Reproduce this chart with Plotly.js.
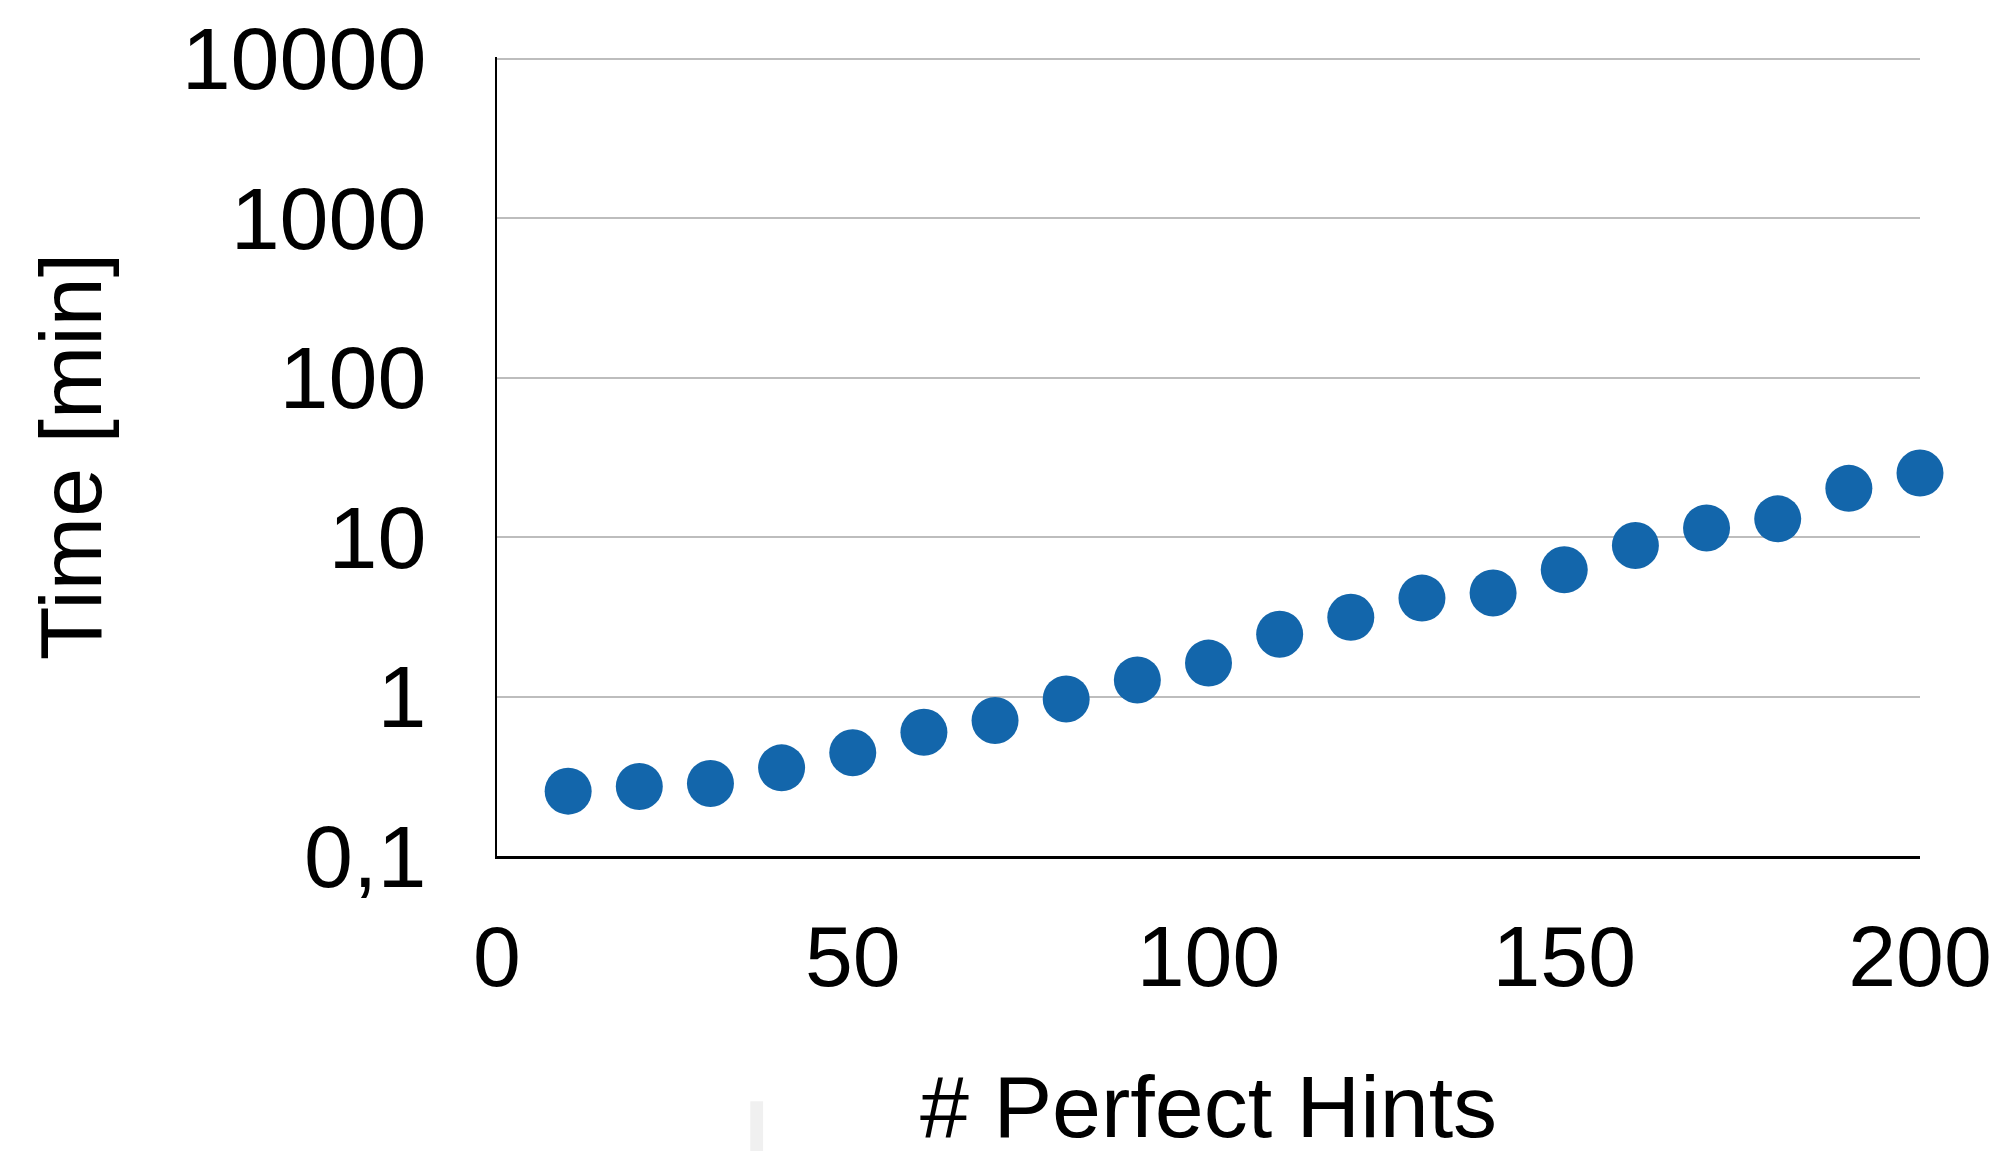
<!DOCTYPE html>
<html>
<head>
<meta charset="utf-8">
<script src="https://cdn.plot.ly/plotly-3.0.1.min.js"></script>
<style>html,body{margin:0;padding:0;background:#fff;}#chart{width:2003px;height:1151px;}</style>
</head>
<body>
<div id="chart"></div>
<script>
const hints = [10, 20, 30, 40, 50, 60, 70, 80, 90, 100, 110, 120, 130, 140, 150, 160, 170, 180, 190, 200];
const timeMin = [0.255, 0.273, 0.285, 0.357, 0.444, 0.597, 0.708, 0.965, 1.27, 1.62, 2.46, 3.14, 4.14, 4.46, 6.23, 8.85, 11.4, 13.0, 20.2, 25.2];
const yTickVals = [0.1, 1, 10, 100, 1000, 10000];
const yTickText = ['0,1', '1', '10', '100', '1000', '10000'];
const xTickVals = [0, 50, 100, 150, 200];
const xTitle = '# Perfect Hints';
const yTitle = 'Time [min]';

const font = 'Liberation Sans, Arial, Helvetica, sans-serif';

const trace = {
  x: hints, y: timeMin, type: 'scatter', mode: 'markers',
  marker: {size: 47, color: '#1366ab'},
  cliponaxis: false,
  hoverinfo: 'x+y', showlegend: false
};

const layout = {
  width: 2003, height: 1151,
  margin: {l: 497, r: 83, t: 57, b: 295, pad: 0},
  paper_bgcolor: '#fff', plot_bgcolor: '#fff',
  separators: ',.',
  font: {family: font, color: '#000', size: 88},
  xaxis: {
    range: [0, 200], tickvals: xTickVals, ticks: '', showgrid: false, zeroline: false,
    showline: true, linecolor: '#000', linewidth: 3,
    tickfont: {size: 86, family: font}, ticklabelstandoff: 24,
    automargin: false
  },
  yaxis: {
    type: 'log', range: [-1, 4.01], tickvals: yTickVals, ticktext: yTickText, ticks: '',
    showgrid: true, gridcolor: '#bdbdbd', gridwidth: 2, zeroline: false,
    showline: true, linecolor: '#000', linewidth: 2,
    tickfont: {size: 88, family: font}, ticklabelstandoff: 51,
    title: {text: yTitle, font: {size: 88, family: font}, standoff: 51},
    automargin: false
  },
  annotations: [{
    text: xTitle, xref: 'paper', yref: 'paper', x: 0.5, y: -0.313,
    xanchor: 'center', yanchor: 'middle', showarrow: false,
    font: {size: 88, family: font, color: '#000'}
  }],
  shapes: [{type: 'rect', xref: 'paper', yref: 'paper', x0: 0.178, x1: 0.187, y0: -0.37, y1: -0.307,
            line: {width: 0}, fillcolor: '#f0f0f0', layer: 'below'}]
};

Plotly.newPlot('chart', [trace], layout, {displayModeBar: false, staticPlot: true});
</script>
</body>
</html>
